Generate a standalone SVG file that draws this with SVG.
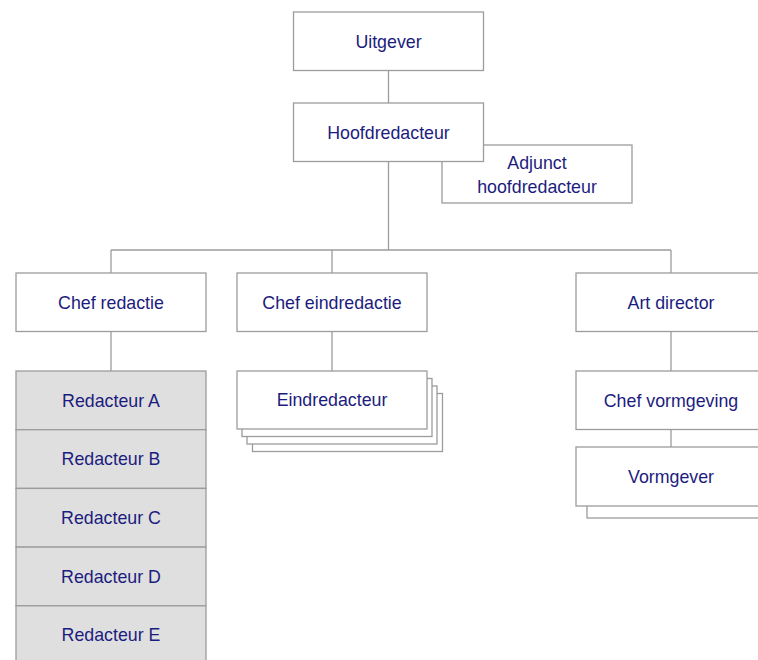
<svg xmlns="http://www.w3.org/2000/svg" width="758" height="660" viewBox="0 0 758 660">
<style>
.b{fill:#ffffff;stroke:#9c9c9c;stroke-width:1.3}
.g{fill:#dfdfdf;stroke:#9c9c9c;stroke-width:1.3}
.t{font-family:"Liberation Sans",Arial,sans-serif;font-size:17.8px;fill:#1c1c7e;text-anchor:middle}
.c{fill:none;stroke:#9c9c9c;stroke-width:1.3}
</style>
<rect width="758" height="660" fill="#ffffff"/>
<g id="connectors">
<path class="c" d="M388.5 70.5V103M388.5 161.5V250M111 250H671M111 250V273M332 250V273M671 250V273M111 331.5V371M332 331.5V371M671 331.5V371M671 429.5V447"/>
</g>
<g id="uitgever">
<rect class="b" x="293.5" y="12" width="190" height="58.5"/>
<text class="t" x="388.5" y="47.5">Uitgever</text>
</g>
<g id="adjunct">
<rect class="b" x="442" y="145" width="190" height="58"/>
<text class="t" x="537" y="168.5">Adjunct</text>
<text class="t" x="537" y="193">hoofdredacteur</text>
</g>
<g id="hoofdredacteur">
<rect class="b" x="293.5" y="103" width="190" height="58.5"/>
<text class="t" x="388.5" y="138.5">Hoofdredacteur</text>
</g>
<g id="chef-redactie">
<rect class="b" x="16" y="273" width="190" height="58.5"/>
<text class="t" x="111" y="308.5">Chef redactie</text>
</g>
<g id="chef-eindredactie">
<rect class="b" x="237" y="273" width="190" height="58.5"/>
<text class="t" x="332" y="308.5">Chef eindredactie</text>
</g>
<g id="art-director">
<rect class="b" x="576" y="273" width="190" height="58.5"/>
<text class="t" x="671" y="308.5">Art director</text>
</g>
<g id="redacteur-a">
<rect class="g" x="16" y="371" width="190" height="58.7"/>
<text class="t" x="111" y="406.5">Redacteur A</text>
</g>
<g id="redacteur-b">
<rect class="g" x="16" y="429.7" width="190" height="58.7"/>
<text class="t" x="111" y="465.2">Redacteur B</text>
</g>
<g id="redacteur-c">
<rect class="g" x="16" y="488.4" width="190" height="58.7"/>
<text class="t" x="111" y="523.9">Redacteur C</text>
</g>
<g id="redacteur-d">
<rect class="g" x="16" y="547.1" width="190" height="58.7"/>
<text class="t" x="111" y="582.6">Redacteur D</text>
</g>
<g id="redacteur-e">
<rect class="g" x="16" y="605.8" width="190" height="58.7"/>
<text class="t" x="111" y="641.3">Redacteur E</text>
</g>
<g id="eindredacteur">
<rect class="b" x="252.5" y="393.5" width="190" height="58"/>
<rect class="b" x="247" y="386" width="190" height="58"/>
<rect class="b" x="242" y="378.5" width="190" height="58"/>
<rect class="b" x="237" y="371" width="190" height="58"/>
<text class="t" x="332" y="406">Eindredacteur</text>
</g>
<g id="chef-vormgeving">
<rect class="b" x="576" y="371" width="190" height="58.5"/>
<text class="t" x="671" y="406.5">Chef vormgeving</text>
</g>
<g id="vormgever">
<rect class="b" x="587" y="459" width="190" height="59"/>
<rect class="b" x="576" y="447" width="190" height="59"/>
<text class="t" x="671" y="482.5">Vormgever</text>
</g>
</svg>
